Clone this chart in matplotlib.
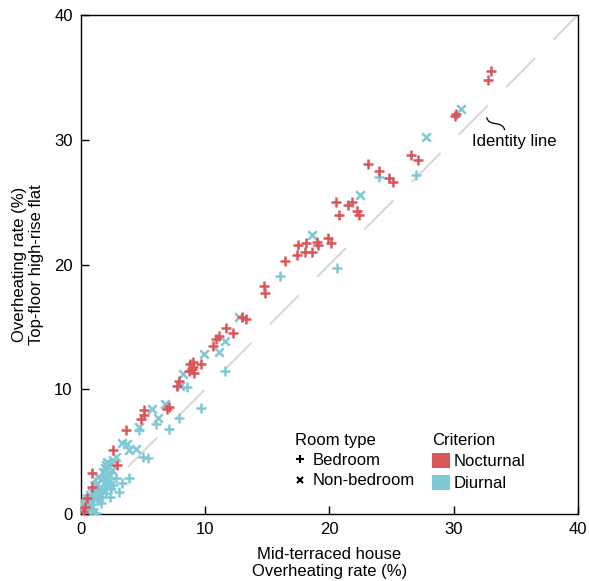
import numpy as np
import matplotlib
matplotlib.use("Agg")
import matplotlib.pyplot as plt
from matplotlib.lines import Line2D
from matplotlib.patches import Patch, PathPatch
from matplotlib.path import Path

plt.rcParams['font.family'] = ['Liberation Sans', 'DejaVu Sans']
plt.rcParams['lines.scale_dashes'] = False

RED = '#d9565a'
BLUE = '#80c8d5'
FS = 12

# Nocturnal criterion, bedrooms (house %, flat %)
noct_bed_x = [33.0, 32.8, 30.1, 30.2, 26.6, 27.1, 23.1, 24.0, 24.8, 25.1,
              20.5, 20.8, 21.5, 21.8, 22.2, 22.4, 17.5, 18.1, 19.0, 19.1,
              19.9, 20.1, 17.4, 18.0, 18.6, 16.4, 14.7, 14.8, 13.0, 13.3,
              11.7, 12.2, 11.1, 10.9, 10.6, 8.8, 9.0, 8.7, 9.1, 9.0,
              8.9, 9.7, 7.9, 7.7, 7.1, 6.9, 5.1, 5.1, 4.8, 3.6,
              2.6, 2.9, 0.9, 0.9, 0.5, 0.3, 0.2]
noct_bed_y = [35.5, 34.8, 31.9, 32.1, 28.8, 28.4, 28.1, 27.5, 26.9, 26.6,
              25.0, 24.0, 24.8, 25.0, 24.3, 24.0, 21.6, 21.7, 21.8, 21.6,
              22.1, 21.7, 20.8, 21.0, 21.0, 20.3, 18.3, 17.7, 15.8, 15.6,
              14.9, 14.5, 14.3, 14.0, 13.5, 12.0, 11.8, 11.5, 11.3, 12.2,
              11.6, 12.0, 10.7, 10.3, 8.6, 8.4, 8.3, 7.9, 7.6, 6.7,
              5.1, 3.9, 3.3, 2.2, 1.3, 0.6, 0.2]

# Diurnal criterion, bedrooms
diur_bed_x = [27.0, 24.0, 16.0, 20.6, 11.6, 8.5, 9.7, 7.9, 6.0, 4.7,
              7.1, 5.0, 5.4, 3.9, 3.1, 1.2,
              0.2, 0.4, 0.6, 0.8, 1.0, 1.2, 1.4, 1.5, 1.7, 1.9,
              2.0, 2.2, 2.4, 1.1, 1.3, 0.5, 2.6, 2.0, 1.6, 0.1,
              0.7, 1.8, 2.3, 0.3, 2.8, 3.3, 1.0]
diur_bed_y = [27.2, 27.0, 19.1, 19.7, 11.5, 10.2, 8.5, 7.7, 7.2, 6.7,
              6.8, 4.6, 4.5, 2.9, 1.8, 0.1,
              0.3, 0.9, 0.5, 1.2, 0.8, 1.5, 1.1, 1.9, 1.4, 2.2,
              1.7, 2.6, 2.0, 2.6, 2.0, 1.5, 2.3, 3.0, 0.9, 0.7,
              0.2, 2.9, 1.4, 1.1, 2.9, 2.5, 0.4]

# Diurnal criterion, non-bedrooms
diur_nb_x = [30.6, 27.8, 22.5, 18.6, 12.7, 11.6, 11.1, 9.9, 8.2, 8.0,
             6.8, 5.7, 6.2, 4.7, 3.3, 3.7, 3.9, 4.4,
             0.3, 0.7, 0.9, 1.3, 1.6, 1.8, 2.0, 2.1, 1.9, 2.3,
             2.5, 1.5, 1.0, 2.6, 2.8, 0.5, 1.2, 1.7, 0.1, 2.2,
             1.4, 2.4]
diur_nb_y = [32.5, 30.2, 25.6, 22.4, 15.8, 13.9, 13.0, 12.8, 11.2, 10.3,
             8.8, 8.4, 7.7, 7.0, 5.7, 5.6, 5.1, 5.2,
             0.6, 1.3, 1.8, 2.4, 2.8, 3.4, 3.9, 4.2, 3.7, 3.1,
             3.5, 2.2, 1.4, 4.3, 4.6, 0.9, 1.7, 2.0, 0.4, 2.6,
             3.0, 4.0]

fig = plt.figure(figsize=(5.89, 5.81), dpi=100)
ax = fig.add_axes([0.1375, 0.1153, 0.8435, 0.8587])

# identity line
ax.plot([0, 40], [0, 40], color='#d6d6d6', lw=1.4, dashes=(29.5, 18.7), zorder=1)

mk = dict(s=56, linewidths=1.8, zorder=3)
ax.scatter(diur_bed_x, diur_bed_y, marker='+', color=BLUE, **mk)
ax.scatter(diur_nb_x, diur_nb_y, marker='x', color=BLUE, s=38, linewidths=1.8, zorder=3)
ax.scatter(noct_bed_x, noct_bed_y, marker='+', color=RED, **mk)

# label for the identity line with a small s-shaped leader
ax.text(31.5, 29.9, 'Identity line', fontsize=FS, va='center', ha='left')
leader = Path([(32.66, 31.81), (32.82, 31.0), (33.95, 31.6), (34.11, 30.77)],
              [Path.MOVETO, Path.CURVE4, Path.CURVE4, Path.CURVE4])
ax.add_patch(PathPatch(leader, fill=False, color='black', lw=0.9))

ax.set_xlim(0, 40)
ax.set_ylim(0, 40)
ax.set_xticks([0, 10, 20, 30, 40])
ax.set_yticks([0, 10, 20, 30, 40])
ax.tick_params(direction='in', length=6, width=1, labelsize=FS, pad=6)
for s in ax.spines.values():
    s.set_linewidth(1)

ax.set_xlabel('Mid-terraced house\nOverheating rate (%)', fontsize=FS, labelpad=7)
ax.set_ylabel('Overheating rate (%)\nTop-floor high-rise flat', fontsize=FS, labelpad=7)

room_handles = [
    Line2D([], [], marker='+', color='black', ls='none', markersize=6, markeredgewidth=1.5),
    Line2D([], [], marker='x', color='black', ls='none', markersize=4.5, markeredgewidth=1.5),
]
leg1 = ax.legend(room_handles, ['Bedroom', 'Non-bedroom'], title='Room type',
                 loc='upper left', bbox_to_anchor=(0.43, 0.163), frameon=False,
                 fontsize=FS, title_fontsize=FS, handlelength=0.7,
                 handletextpad=0.4, labelspacing=0.32, borderpad=0,
                 borderaxespad=0, alignment='left')
ax.add_artist(leg1)

crit_handles = [Patch(facecolor=RED, edgecolor='none'),
                Patch(facecolor=BLUE, edgecolor='none')]
ax.legend(crit_handles, ['Nocturnal', 'Diurnal'], title='Criterion',
          loc='upper left', bbox_to_anchor=(0.707, 0.163), frameon=False,
          fontsize=FS, title_fontsize=FS, handlelength=1.05, handleheight=1.05,
          handletextpad=0.25, labelspacing=0.32, borderpad=0,
          borderaxespad=0, alignment='left')

fig.savefig('out.png', dpi=100)
